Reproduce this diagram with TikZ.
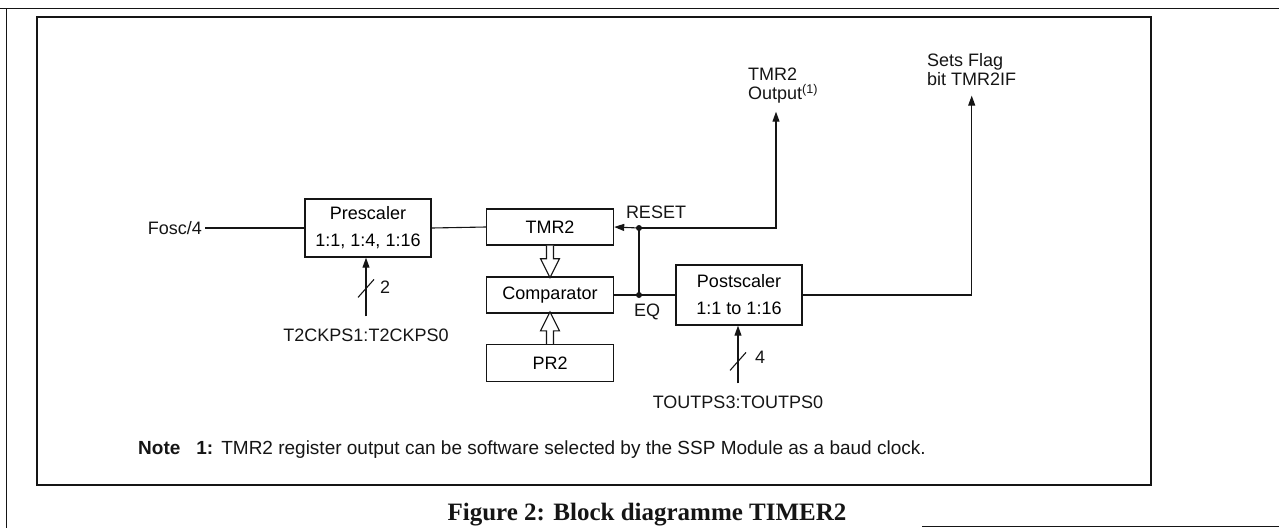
\documentclass[tikz,border=0pt]{standalone}
\usepackage{fontspec}
\setmainfont{Liberation Sans}
\newfontfamily\legfont{Liberation Serif}
\usetikzlibrary{arrows.meta,positioning,calc}
\definecolor{tinta}{HTML}{151515}

\begin{document}
\begin{tikzpicture}[x=1pt,y=-1pt,
  bloco/.style={draw=tinta, line width=1.4pt, minimum width=127pt, align=center,
    inner sep=0pt, font=\fontsize{18}{27}\selectfont},
  fio/.style={tinta, line width=1.1pt},
  seta/.style={fio, -{Triangle[length=10pt,width=7pt]}},
  rot/.style={font=\fontsize{18}{19}\selectfont, text=tinta, inner sep=0pt},
  oca/.pic={\draw[tinta, line width=1.1pt, fill=white]
    (-3.5,0) -- (-3.5,13) -- (-9.5,13) -- (0,32) -- (9.5,13) -- (3.5,13) -- (3.5,0);}]

\useasboundingbox (0,0) rectangle (1279,528);

% ================= molduras =================
\draw[tinta, line width=1pt] (0,8) -- (1279,8);
\draw[tinta, line width=1pt] (6,8) -- (6,528);
\draw[tinta, line width=1pt] (922,526) -- (1279,526);
\draw[tinta, line width=1.2pt] (37,17) rectangle (1151,485);

% ================= blocos =================
\node[bloco, minimum width=126pt, minimum height=58pt] (presc) at (368,228) {Prescaler\\1:1, 1:4, 1:16};
\node[bloco, minimum height=36pt] (tmr2) at (550,227) {TMR2};
\node[bloco, minimum height=36pt] (comp) at (550,295) {Comparator};
\node[bloco, minimum height=37pt] (pr2) at (550,363) {PR2};
\node[bloco, minimum width=126pt, minimum height=60pt] (post) at (739,295) {Postscaler\\1:1 to 1:16};

% ================= rotulos =================
\node[rot, anchor=east] (fosc) at (202,228) {Fosc/4};
\node[rot] (t2ck) at (366,335) {T2CKPS1:T2CKPS0};
\node[rot] (tout) at (738,402) {TOUTPS3:TOUTPS0};
\node[rot] (lrst) at (656,212) {RESET};
\node[rot] (leq) at (647,312) {EQ};
\node[rot, align=left, anchor=north west] (lout) at (748,68) {TMR2\\Output\textsuperscript{(1)}};
\node[rot, align=left, anchor=north west] (flag) at (927,53) {Sets Flag\\bit TMR2IF};
\node[rot, font=\fontsize{19}{20}\selectfont, anchor=west] (nota) at (138,450)
  {\textbf{Note}\hspace{16pt}\textbf{1:}\hspace{8pt}TMR2 register output can be software selected by the SSP Module as a baud clock.};
\node[font=\legfont\bfseries\fontsize{25}{28}\selectfont, text=tinta, inner sep=0pt] (legenda) at (647,515)
  {Figure 2: Block diagramme TIMER2};

% ================= ligacoes =================
\coordinate (rst) at (639,228);
\coordinate (eq) at (639,295);
\coordinate (saida) at (776,228);
\draw[fio] ([xshift=3pt]fosc.east) -- (presc.west);
\draw[fio] (presc.east) -- (tmr2.west);
\draw[fio] (comp.east) -- (post.west);
\draw[fio] (eq) -- (rst);
\draw[seta] (rst) -- (tmr2.east);
\draw[seta] (rst) -- (saida) -- ([yshift=-8pt]saida |- lout.south);
\draw[seta] (post.east) -| ([yshift=-10pt]flag.south);
\fill[tinta] (rst) circle (3pt);
\fill[tinta] (eq) circle (3pt);

% setas largas
\pic at (tmr2.south) {oca};
\pic[rotate=180] at (pr2.north) {oca};

% barramentos
\draw[seta] ([yshift=12pt]t2ck.north) -- (t2ck.north |- presc.south);
\coordinate (bar2) at ($(t2ck.north)+(0,-40)$);
\draw[fio] ($(bar2)+(-8,9)$) -- ($(bar2)+(8,-9)$);
\node[rot] (n2) at (385,287) {2};
\draw[seta] ([yshift=12pt]tout.north) -- (tout.north |- post.south);
\coordinate (bar4) at ($(tout.north)+(0,-34)$);
\draw[fio] ($(bar4)+(-8,9)$) -- ($(bar4)+(8,-9)$);
\node[rot] (n4) at (760,357) {4};

\end{tikzpicture}
\end{document}
